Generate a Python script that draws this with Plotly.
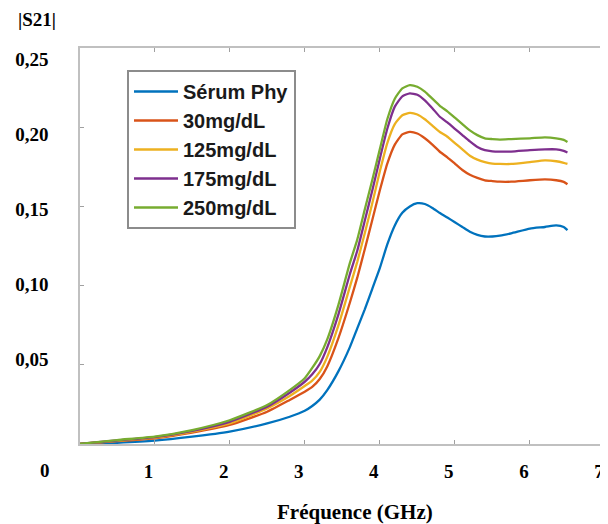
import plotly.graph_objects as go

freq = [0.0, 0.5, 1.0, 1.5, 2.0, 2.5, 2.8, 3.0, 3.1, 3.2, 3.3, 3.45, 3.6, 3.7, 3.8, 3.9,
        4.0, 4.1, 4.2, 4.3, 4.4, 4.5, 4.6, 4.7, 4.8, 4.9, 5.0, 5.1, 5.2, 5.3, 5.4, 5.5,
        5.6, 5.75, 6.0, 6.2, 6.35, 6.45, 6.5]

serum = [0.0, 0.0008, 0.0021, 0.0046, 0.0078, 0.013, 0.0172, 0.021, 0.024, 0.028, 0.034, 0.046,
         0.061, 0.073, 0.085, 0.098, 0.111, 0.126, 0.138, 0.146, 0.150, 0.152, 0.1515, 0.149,
         0.1458, 0.143, 0.140, 0.137, 0.134, 0.132, 0.131, 0.131, 0.1315, 0.133, 0.136, 0.137,
         0.138, 0.137, 0.135]
g30 = [0.0, 0.0018, 0.0036, 0.0072, 0.012, 0.0204, 0.0278, 0.033, 0.036, 0.041, 0.049, 0.067,
       0.089, 0.105, 0.123, 0.1414, 0.160, 0.177, 0.189, 0.1955, 0.197, 0.196, 0.193, 0.189,
       0.1845, 0.181, 0.177, 0.173, 0.170, 0.168, 0.1665, 0.166, 0.1656, 0.1656, 0.1665, 0.167,
       0.1665, 0.1655, 0.164]
g125 = [0.0, 0.002, 0.004, 0.0078, 0.013, 0.0225, 0.0303, 0.0366, 0.040, 0.0455, 0.055, 0.075,
        0.099, 0.115, 0.133, 0.152, 0.172, 0.190, 0.202, 0.2075, 0.209, 0.208, 0.205, 0.201,
        0.197, 0.194, 0.190, 0.186, 0.182, 0.1795, 0.178, 0.177, 0.1768, 0.1768, 0.178, 0.179,
        0.1785, 0.1775, 0.1768]
g175 = [0.0, 0.0022, 0.0043, 0.0083, 0.014, 0.0236, 0.0324, 0.0393, 0.044, 0.0505, 0.061, 0.082,
        0.107, 0.122, 0.141, 0.160, 0.180, 0.199, 0.213, 0.2195, 0.2214, 0.2205, 0.217, 0.212,
        0.2066, 0.203, 0.199, 0.195, 0.191, 0.1875, 0.1855, 0.1848, 0.1846, 0.1846, 0.1855, 0.186,
        0.186, 0.185, 0.184]
g250 = [0.0, 0.0025, 0.0046, 0.0088, 0.015, 0.0246, 0.034, 0.0415, 0.048, 0.0555, 0.066, 0.088,
        0.114, 0.129, 0.148, 0.1667, 0.186, 0.205, 0.218, 0.2245, 0.2266, 0.2255, 0.2225, 0.218,
        0.2135, 0.210, 0.206, 0.202, 0.198, 0.195, 0.193, 0.1925, 0.1922, 0.1925, 0.193, 0.1936,
        0.193, 0.192, 0.1907]

series_names = ["Sérum Phy", "30mg/dL", "125mg/dL", "175mg/dL", "250mg/dL"]
series_values = [serum, g30, g125, g175, g250]
colors = ["#0072BD", "#D95319", "#EDB120", "#7E2F8E", "#77AC30"]

x_tick_vals = [1, 2, 3, 4, 5, 6, 7]
x_tick_text = ["1", "2", "3", "4", "5", "6", "7"]
y_tick_vals = [0.05, 0.10, 0.15, 0.20, 0.25]
y_tick_text = ["0,05", "0,10", "0,15", "0,20", "0,25"]

serif = "Liberation Serif, Times New Roman, serif"
sans = "Liberation Sans, Arial, sans-serif"

# the page body adds an 8px offset; figure coordinates below are visible pixels minus 8
W, H = 600, 516

fig = go.Figure()
for name, vals, col in zip(series_names, series_values, colors):
    fig.add_trace(go.Scatter(x=freq, y=vals, name=name, mode="lines",
                             line=dict(color=col, width=2.3, shape="spline", smoothing=0.5)))

# invisible trace for the label axis
fig.add_trace(go.Scatter(x=[None], y=[None], yaxis="y2", showlegend=False, hoverinfo="skip"))

frame = "#c0c0c0"
fig.update_layout(
    width=W, height=H,
    margin=dict(l=0, r=0, t=0, b=0, autoexpand=False),
    paper_bgcolor="white", plot_bgcolor="white",
    showlegend=True,
    xaxis=dict(domain=[71.5 / W, 597 / W], range=[0, 7], automargin=False,
               tickvals=x_tick_vals, ticktext=x_tick_text,
               ticks="inside", ticklen=4, tickcolor="#a0a0a0", tickwidth=1,
               showline=True, linecolor=frame, linewidth=2, mirror="ticks",
               showgrid=False, zeroline=False,
               ticklabelshift=-6, ticklabelstandoff=9,
               tickfont=dict(family=serif, size=19, color="black", weight="bold")),
    yaxis=dict(domain=[(H - 436) / H, (H - 40) / H], range=[0, 0.25], automargin=False,
               tickvals=y_tick_vals, showticklabels=False,
               ticks="inside", ticklen=4, tickcolor="#a0a0a0", tickwidth=1,
               showline=True, linecolor=frame, linewidth=2, mirror="ticks",
               showgrid=False, zeroline=False),
    yaxis2=dict(overlaying="y", side="left", range=[-0.0066, 0.2574], automargin=False,
                tickvals=y_tick_vals, ticktext=y_tick_text,
                showline=False, showgrid=False, zeroline=False, ticks="",
                ticklabelstandoff=30,
                tickfont=dict(family=serif, size=19, color="black", weight="bold")),
    legend=dict(x=119 / W, y=(H - 62) / H, xanchor="left", yanchor="top",
                bgcolor="white", bordercolor="#8c8c8c", borderwidth=2,
                font=dict(family=sans, size=20, color="#1a1a1a", weight="bold"),
                itemwidth=44, tracegroupgap=0),
    annotations=[
        dict(text="|S21|", x=29 / W, y=(H - 11) / H, xref="paper", yref="paper",
             xanchor="center", yanchor="middle", showarrow=False,
             font=dict(family=serif, size=19, color="black", weight="bold")),
        dict(text="0", x=37 / W, y=(H - 462) / H, xref="paper", yref="paper",
             xanchor="center", yanchor="middle", showarrow=False,
             font=dict(family=serif, size=19, color="black", weight="bold")),
        dict(text="Fréquence (GHz)", x=347 / W, y=(H - 504) / H, xref="paper", yref="paper",
             xanchor="center", yanchor="middle", showarrow=False,
             font=dict(family=serif, size=21, color="black", weight="bold")),
    ],
)

fig.write_html("out.html")
